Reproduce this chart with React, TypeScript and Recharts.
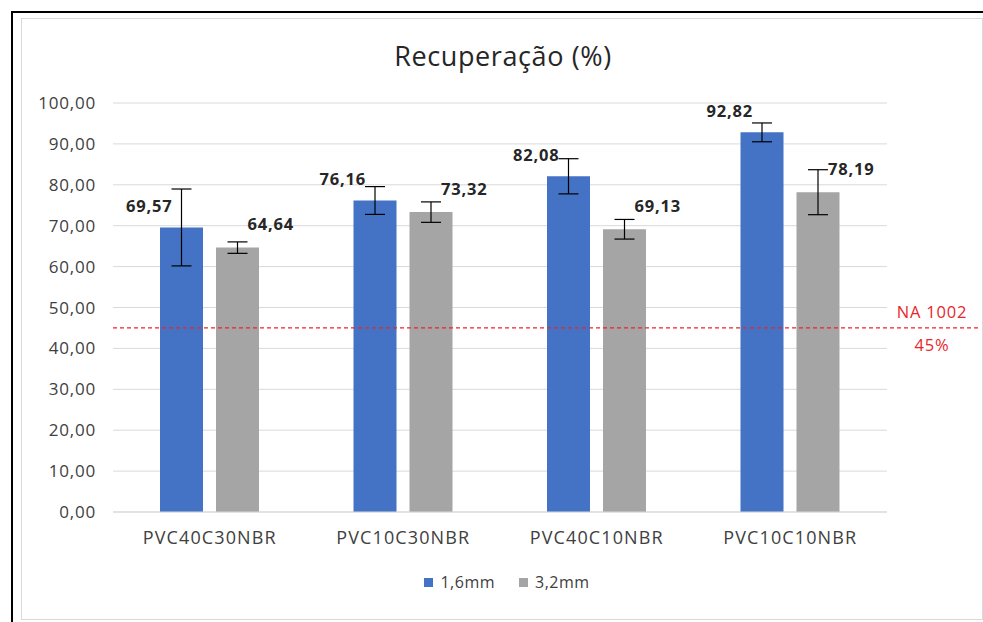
import { BarChart, Bar, XAxis, YAxis, CartesianGrid, Legend, ReferenceLine, ErrorBar, LabelList } from 'recharts';

const categories = ['PVC40C30NBR', 'PVC10C30NBR', 'PVC40C10NBR', 'PVC10C10NBR'];
const thin = [69.57, 76.16, 82.08, 92.82];
const thick = [64.64, 73.32, 69.13, 78.19];
const thinErr = [9.4, 3.4, 4.3, 2.3];
const thickErr = [1.4, 2.5, 2.4, 5.5];
const yTicks = [0, 10, 20, 30, 40, 50, 60, 70, 80, 90, 100];
const limit = 45;

const BLUE = '#4472C4';
const GRAY = '#A5A5A5';
const RED = '#e8262b';
const FONT = '"Open Sans", "Noto Sans", sans-serif';

const data = categories.map((name, i) => ({
  name,
  thin: thin[i],
  thick: thick[i],
  thinErr: thinErr[i],
  thickErr: thickErr[i],
}));

const fmt = (v: number) => v.toFixed(2).replace('.', ',');

// rótulos de dados à esquerda (1,6mm) ou à direita (3,2mm) da barra de erro
const makeLabel = (side: 'left' | 'right') => (props: any) => {
  const { x, y, width, value } = props;
  const cx = x + width / 2;
  return (
    <text
      x={side === 'left' ? cx - 9 : cx + 10}
      y={side === 'left' ? y - 20 : y - 22}
      textAnchor={side === 'left' ? 'end' : 'start'}
      dominantBaseline="middle"
      fontFamily={FONT}
      fontSize={16.5}
      fontWeight={700}
      letterSpacing={0.8}
      fill="#262626"
    >
      {fmt(value)}
    </text>
  );
};

const LimitLine = (props: any) => {
  const { x1, x2, y1 } = props;
  return (
    <g>
      <line x1={x1} x2={x2 + 91} y1={y1} y2={y1} stroke={RED} strokeWidth={1.3} strokeDasharray="4 3" />
      <text x={x2 + 45} y={y1 - 14} textAnchor="middle" dominantBaseline="middle" fontFamily={FONT} fontSize={16.5} letterSpacing={0.8} fill={RED}>
        NA 1002
      </text>
      <text x={x2 + 45} y={y1 + 19} textAnchor="middle" dominantBaseline="middle" fontFamily={FONT} fontSize={16.5} letterSpacing={0.8} fill={RED}>
        {limit}%
      </text>
    </g>
  );
};

const renderLegend = () => (
  <div style={{ display: 'flex', justifyContent: 'center', gap: 24, fontFamily: FONT, fontSize: 16, letterSpacing: 0.5, color: '#404040' }}>
    {[
      { c: BLUE, t: '1,6mm' },
      { c: GRAY, t: '3,2mm' },
    ].map((it) => (
      <span key={it.t} style={{ display: 'flex', alignItems: 'center' }}>
        <span style={{ width: 9, height: 9, background: it.c, display: 'inline-block', marginRight: 7 }} />
        {it.t}
      </span>
    ))}
  </div>
);

export default function App() {
  return (
    <div style={{ position: 'absolute', left: 0, top: 0, width: 983, height: 622, background: '#fff', overflow: 'hidden' }}>
      <div style={{ position: 'absolute', left: 11, top: 11, width: 1000, height: 700, borderTop: '2px solid #000', borderLeft: '2px solid #000' }} />
      <div style={{ position: 'absolute', left: 21, top: 18, width: 960, height: 600, border: '1px solid #d9d9d9' }} />
      <div
        style={{
          position: 'absolute',
          left: 0,
          width: 1006,
          top: 37,
          textAlign: 'center',
          fontFamily: FONT,
          fontSize: 27,
          letterSpacing: 0.6,
          color: '#262626',
        }}
      >
        Recuperação (%)
      </div>
      <div style={{ position: 'absolute', left: 0, top: 0 }}>
        <BarChart
          width={983}
          height={622}
          data={data}
          margin={{ top: 103, right: 96, left: 0, bottom: 40 }}
          barSize={43}
          barGap={13}
        >
          <CartesianGrid vertical={false} stroke="#d9d9d9" />
          <XAxis
            dataKey="name"
            axisLine={{ stroke: '#d9d9d9' }}
            tickLine={false}
            height={40}
            tickMargin={13}
            tick={{ fontFamily: FONT, fontSize: 18, fill: '#404040', letterSpacing: 1.1 }}
          />
          <YAxis
            width={113}
            domain={[0, 100]}
            ticks={yTicks}
            axisLine={false}
            tickLine={false}
            tickMargin={11}
            tickFormatter={fmt}
            tick={{ fontFamily: FONT, fontSize: 17, fill: '#404040', letterSpacing: 0.8 }}
          />
          <Legend
            verticalAlign="bottom"
            height={30}
            content={renderLegend}
            wrapperStyle={{ left: 0, width: 1014, top: 571 }}
          />
          <Bar dataKey="thin" name="1,6mm" fill={BLUE} isAnimationActive={false}>
            <ErrorBar dataKey="thinErr" width={10} stroke="#000" strokeWidth={1.2} />
            <LabelList dataKey="thin" content={makeLabel('left')} />
          </Bar>
          <Bar dataKey="thick" name="3,2mm" fill={GRAY} isAnimationActive={false}>
            <ErrorBar dataKey="thickErr" width={10} stroke="#000" strokeWidth={1.2} />
            <LabelList dataKey="thick" content={makeLabel('right')} />
          </Bar>
          <ReferenceLine y={limit} ifOverflow="visible" shape={LimitLine} />
        </BarChart>
      </div>
    </div>
  );
}
